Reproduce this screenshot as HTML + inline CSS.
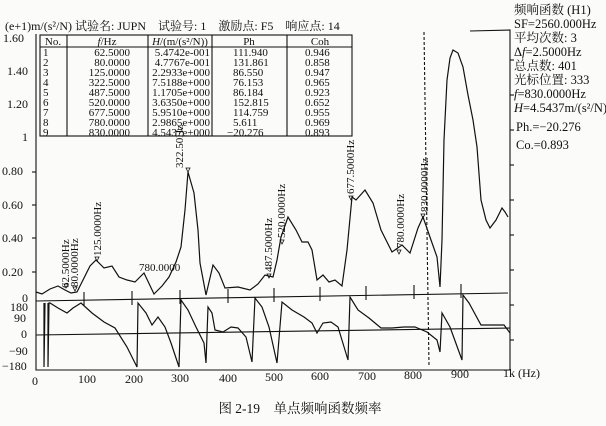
<!DOCTYPE html>
<html><head><meta charset="utf-8"><style>
body{margin:0;background:#fff;}
svg{display:block;}
text{font-family:"Liberation Serif","Noto Serif CJK SC",serif;fill:#111;}
</style></head><body>
<svg width="606" height="426" viewBox="0 0 606 426" xmlns="http://www.w3.org/2000/svg">
<rect width="606" height="426" fill="#fbfbf9"/>
<g stroke="#111" fill="none" stroke-width="1.1">
<polyline points="36,34 36,370 510,370 510,30 470,31"/>
<line x1="36" y1="301" x2="508" y2="293"/>
<line x1="36" y1="335" x2="510" y2="328"/>
<g>
<line x1="84" y1="292" x2="84" y2="306"/><line x1="132" y1="291" x2="132" y2="305"/><line x1="180" y1="290" x2="180" y2="304"/><line x1="228" y1="289" x2="228" y2="303"/><line x1="274" y1="288" x2="274" y2="302"/><line x1="320" y1="287" x2="320" y2="301"/><line x1="366" y1="286" x2="366" y2="300"/><line x1="414" y1="285" x2="414" y2="299"/><line x1="461" y1="284" x2="461" y2="298"/>
</g>
<line x1="32" y1="172" x2="36" y2="172"/><line x1="32" y1="205" x2="36" y2="205"/><line x1="32" y1="238" x2="36" y2="238"/><line x1="32" y1="272" x2="36" y2="272"/>
<line x1="510" y1="60" x2="514" y2="60"/><line x1="510" y1="95" x2="514" y2="95"/><line x1="510" y1="130" x2="514" y2="130"/><line x1="510" y1="165" x2="514" y2="165"/><line x1="510" y1="200" x2="514" y2="200"/><line x1="510" y1="235" x2="514" y2="235"/><line x1="510" y1="270" x2="514" y2="270"/><line x1="510" y1="305" x2="514" y2="305"/><line x1="510" y1="340" x2="514" y2="340"/>
<polyline stroke-width="1.2" points="36,292 42,294 50,289 58,286 65,290 71,293 77,292 83,280 90,266 96,260 104,268 112,266 119,277 127,280 135,282 144,273 154,294 162,286 169,277 176,262 181,247 185,210 188,172 194,193 198,230 200,263 206,295 213,265 219,273 225,288 238,287 250,290 258,284 265,275 273,277 277,260 281,237 288,217 296,230 302,242 308,242 312,250 317,280 323,275 329,282 335,280 342,286 347,250 352,197 356,200 365,190 373,203 381,230 392,252 402,245 410,253 418,228 423,217 431,240 437,257 440,287 442,240 444,140 447,80 450,58 453,50 458,53 463,67 468,95 473,120 477,147 481,200 486,220 490,228 496,220 502,208 505,212 508,217"/>
<polyline stroke-width="1.2" points="44,303 44,367 45,303"/>
<polyline stroke-width="1.2" points="48,303 48,367 49,303 50,303 58,308 67,313 73,308 81,303 92,313 104,322 115,328 127,347 137,367 138,303 146,313 152,325 158,317 165,327 171,343 179,367 181,300 188,310 196,327 204,343 206,363 208,307 212,313 215,330 223,332 231,327 238,328 246,337 252,362 255,298 262,307 269,327 277,363 282,302 292,310 304,317 312,323 317,333 323,323 331,322 338,327 348,360 350,297 358,310 369,318 381,328 392,328 404,327 415,327 427,332 437,340 440,352 442,313 450,327 462,360 463,295 469,303 481,325 492,325 504,325 510,333"/>
<line x1="424" y1="32" x2="429" y2="366" stroke-dasharray="3,2"/>
<g stroke-width="0.8">
<path d="M64,284 l4,0 l-2,4z"/><path d="M73,287 l4,0 l-2,4z"/><path d="M95,257 l4,0 l-2,4z"/><path d="M186,168 l4,0 l-2,4z"/><path d="M267,274 l4,0 l-2,4z"/><path d="M280,240 l4,0 l-2,4z"/><path d="M349,196 l4,0 l-2,4z"/><path d="M397,250 l4,0 l-2,4z"/><path d="M421,214 l4,0 l-2,4z"/>
</g>
<rect x="40" y="35" width="312" height="101"/>
<line x1="40" y1="47" x2="352" y2="47"/>
<line x1="67" y1="35" x2="67" y2="136"/><line x1="148" y1="35" x2="148" y2="136"/><line x1="212" y1="35" x2="212" y2="136"/><line x1="287" y1="35" x2="287" y2="136"/>
</g>
<g font-size="12">
<text x="5" y="30">(e+1)m/(s²/N) 试验名: JUPN　试验号: 1　激励点: F5　响应点: 14</text>
<text x="3" y="42">1.60</text><text x="7" y="75">1.40</text><text x="7" y="108">1.20</text><text x="22" y="141">1</text>
<text x="2" y="175">0.80</text><text x="2" y="209">0.60</text><text x="2" y="242">0.40</text><text x="2" y="276">0.20</text><text x="22" y="302">0</text>
<text x="10" y="311">180</text><text x="14" y="322">90</text><text x="21" y="338">0</text><text x="9" y="355">−90</text><text x="2" y="370">−180</text>
<text x="32" y="385">0</text><text x="78" y="383">100</text><text x="125" y="383">200</text><text x="171" y="382">300</text><text x="219" y="382">400</text><text x="265" y="381">500</text><text x="311" y="380">600</text><text x="358" y="380">700</text><text x="404" y="379">800</text><text x="451" y="378">900</text><text x="503" y="377">1k (Hz)</text>
</g>
<g font-size="11" text-anchor="middle">
<text x="53" y="45">No.</text><text x="107" y="45"><tspan font-style="italic">f</tspan>/Hz</text><text x="180" y="45"><tspan font-style="italic">H</tspan>/(m/(s²/N))</text><text x="249" y="45">Ph</text><text x="320" y="45">Coh</text>
</g>
<g font-size="11">
<text x="43" y="56">1</text><text x="43" y="66">2</text><text x="43" y="76">3</text><text x="43" y="86">4</text><text x="43" y="96">5</text><text x="43" y="106">6</text><text x="43" y="116">7</text><text x="43" y="126">8</text><text x="43" y="136">9</text>
<g text-anchor="end">
<text x="130" y="56">62.5000</text><text x="130" y="66">80.0000</text><text x="130" y="76">125.0000</text><text x="130" y="86">322.5000</text><text x="130" y="96">487.5000</text><text x="130" y="106">520.0000</text><text x="130" y="116">677.5000</text><text x="130" y="126">780.0000</text><text x="130" y="136">830.0000</text>
<text x="210" y="56">5.4742e-001</text><text x="210" y="66">4.7767e-001</text><text x="210" y="76">2.2933e+000</text><text x="210" y="86">7.5188e+000</text><text x="210" y="96">1.1705e+000</text><text x="210" y="106">3.6350e+000</text><text x="210" y="116">5.9510e+000</text><text x="210" y="126">2.9865e+000</text><text x="210" y="136">4.5437e+000</text>
</g>
<text x="233" y="56">111.940</text><text x="233" y="66">131.861</text><text x="233" y="76">86.550</text><text x="233" y="86">76.153</text><text x="233" y="96">86.184</text><text x="233" y="106">152.815</text><text x="233" y="116">114.759</text><text x="233" y="126">5.611</text><text x="227" y="136">−20.276</text>
<text x="305" y="56">0.946</text><text x="305" y="66">0.858</text><text x="305" y="76">0.947</text><text x="305" y="86">0.965</text><text x="305" y="96">0.923</text><text x="305" y="106">0.652</text><text x="305" y="116">0.955</text><text x="305" y="126">0.969</text><text x="305" y="136">0.893</text>
</g>
<g font-size="12.5">
<text x="514" y="14">频响函数 (H1)</text><text x="514" y="28">SF=2560.000Hz</text><text x="514" y="42">平均次数: 3</text><text x="514" y="56">Δ<tspan font-style="italic">f</tspan>=2.5000Hz</text><text x="514" y="70">总点数: 401</text><text x="514" y="84">光标位置: 333</text><text x="514" y="98"><tspan font-style="italic">f</tspan>=830.0000Hz</text><text x="514" y="112"><tspan font-style="italic">H</tspan>=4.5437m/(s²/N)</text><text x="516" y="131">Ph.=−20.276</text><text x="516" y="149">Co.=0.893</text>
</g>
<g font-size="11">
<text transform="translate(69,288) rotate(-90)">62.5000Hz</text>
<text transform="translate(78,287) rotate(-90)">80.0000Hz</text>
<text transform="translate(101,256) rotate(-90)">125.0000Hz</text>
<text transform="translate(183,168) rotate(-90)">322.50Hz</text>
<text transform="translate(272,272) rotate(-90)">487.5000Hz</text>
<text transform="translate(285,238) rotate(-90)">520.0000Hz</text>
<text transform="translate(354,194) rotate(-90)">677.5000Hz</text>
<text transform="translate(404,248) rotate(-90)">780.0000Hz</text>
<text transform="translate(428,212) rotate(-90)">830.0000Hz</text>
<text x="139" y="271">780.0000</text>
</g>
<text x="300" y="413" font-size="13.5" text-anchor="middle">图 2-19　单点频响函数频率</text>
</svg>
</body></html>
